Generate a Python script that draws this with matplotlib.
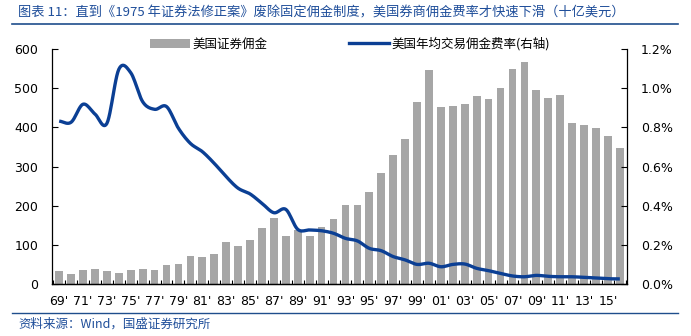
import numpy as np
import matplotlib
matplotlib.use("Agg")
import matplotlib.pyplot as plt
from matplotlib.lines import Line2D
from matplotlib.patches import Patch

plt.rcParams['font.family'] = ['Noto Sans CJK SC', 'DejaVu Sans']

years = list(range(1969, 2017))
commission = [33, 26, 36, 38, 33, 28, 36, 38, 36, 49,
              51, 71, 69, 77, 107, 97, 112, 143, 169, 123,
              138, 123, 146, 166, 202, 202, 235, 283, 329, 370,
              465, 546, 452, 454, 460, 480, 472, 500, 549, 567,
              495, 475, 483, 411, 406, 398, 378, 347]
rate = [0.832, 0.826, 0.918, 0.868, 0.820, 1.096, 1.079, 0.931, 0.892, 0.906,
        0.795, 0.718, 0.676, 0.616, 0.548, 0.489, 0.460, 0.412, 0.364, 0.381,
        0.279, 0.276, 0.272, 0.259, 0.233, 0.220, 0.182, 0.170, 0.140, 0.123,
        0.100, 0.106, 0.088, 0.100, 0.102, 0.080, 0.068, 0.054, 0.041, 0.037,
        0.044, 0.039, 0.037, 0.037, 0.034, 0.031, 0.027, 0.026]
tick_labels = [f"{y % 100:02d}'" for y in years[::2]]

title = "图表 11：直到《1975 年证券法修正案》废除固定佣金制度，美国券商佣金费率才快速下滑（十亿美元）"
footer = "资料来源：Wind，国盛证券研究所"
bar_label = "美国证券佣金"
line_label = "美国年均交易佣金费率(右轴)"

blue_txt = "#1F4E9A"
line_col = "#0B3F94"
bar_col = "#A6A6A6"

fig = plt.figure(figsize=(6.91, 3.36), dpi=100)
ax = fig.add_axes([52/691, 1-284/336, (627-52)/691, (284-49)/336])
ax2 = ax.twinx()

x = np.arange(len(years))
ax.bar(x, commission, width=0.65, color=bar_col, zorder=2)

# smooth (Catmull-Rom) rendering through the data points
def catmull(xs, ys, n=12):
    xs = np.asarray(xs, float); ys = np.asarray(ys, float)
    px = np.concatenate([[2*xs[0]-xs[1]], xs, [2*xs[-1]-xs[-2]]])
    py = np.concatenate([[2*ys[0]-ys[1]], ys, [2*ys[-1]-ys[-2]]])
    ox, oy = [], []
    for i in range(1, len(px)-2):
        t = np.linspace(0, 1, n, endpoint=False)
        for P, out in ((px, ox), (py, oy)):
            p0, p1, p2, p3 = P[i-1], P[i], P[i+1], P[i+2]
            out.extend(0.5*((2*p1) + (-p0+p2)*t + (2*p0-5*p1+4*p2-p3)*t**2 + (-p0+3*p1-3*p2+p3)*t**3))
    ox.append(xs[-1]); oy.append(ys[-1])
    return np.array(ox), np.array(oy)

sx, sy = catmull(x, rate)
ax2.plot(sx, sy, color=line_col, lw=2.4, solid_capstyle='butt', zorder=3)

ax.set_xlim(-0.6, len(years)-0.4)
ax.set_ylim(0, 600)
ax2.set_ylim(0, 1.2)
ax.set_yticks(range(0, 601, 100))
ax2.set_yticks(np.arange(0, 1.21, 0.2))
ax2.set_yticklabels([f"{v:.1f}%" for v in np.arange(0, 1.21, 0.2)])

ax.set_xticks(np.arange(-0.5, len(years), 1))
ax.set_xticklabels([])
ax.set_xticks(x[::2], minor=True)
ax.set_xticklabels(tick_labels, minor=True)
ax.tick_params(axis='x', which='major', direction='in', length=3, width=0.8)
ax.tick_params(axis='x', which='minor', length=0, pad=8, labelsize=9)
ax.tick_params(axis='y', direction='in', length=4, labelsize=9, pad=10)
ax2.tick_params(axis='y', direction='in', length=4, labelsize=9, pad=10)
for lab in ax.get_xticklabels(minor=True) + ax.get_yticklabels() + ax2.get_yticklabels():
    lab.set_fontfamily('DejaVu Sans')

for a in (ax, ax2):
    a.spines['top'].set_visible(False)
    for s in ('left', 'right', 'bottom'):
        a.spines[s].set_linewidth(0.9)
ax2.spines['left'].set_visible(False)
ax.spines['right'].set_visible(False)

handles = [Patch(facecolor=bar_col, edgecolor='none'), Line2D([0], [0], color=line_col, lw=2.4)]
fig.legend(handles, [bar_label, line_label], loc='center left',
           bbox_to_anchor=(150/691, 1-44/336), ncol=2, frameon=False,
           fontsize=9, handlelength=3.2, handletextpad=0.2, columnspacing=6.5,
           borderaxespad=0, borderpad=0)

fig.text(18/691, 1-13/336, title, color=blue_txt, fontsize=9.5, style='italic',
         va='center', ha='left')
fig.add_artist(Line2D([12/691, 678/691], [1-24/336, 1-24/336], color="#1F4E8C", lw=1.2))
fig.add_artist(Line2D([12/691, 678/691], [1-313/336, 1-313/336], color="#1F4E8C", lw=1.0))
fig.text(18/691, 1-324/336, footer, color=blue_txt, fontsize=9, style='italic',
         va='center', ha='left')

fig.savefig("out.png", dpi=100)
